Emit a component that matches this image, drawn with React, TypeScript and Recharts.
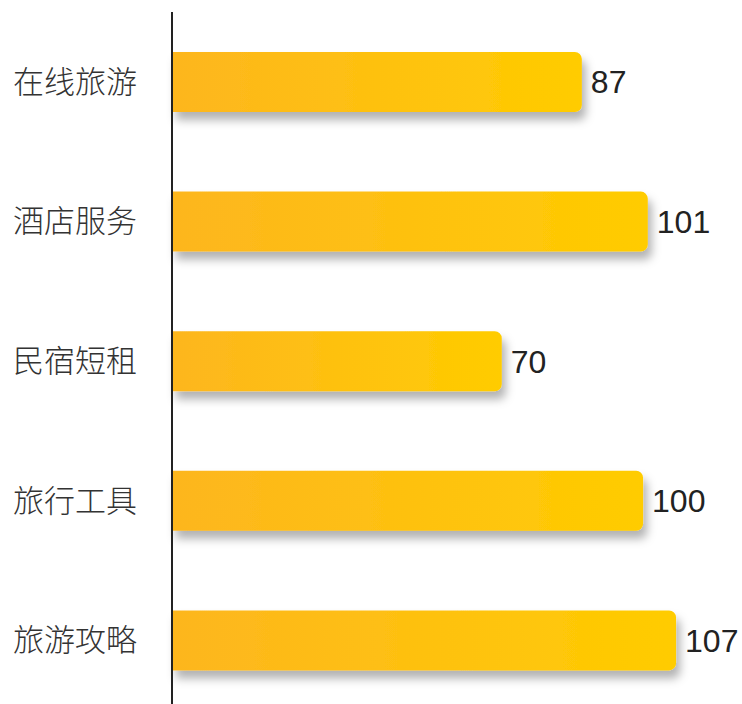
import { BarChart, Bar, XAxis, YAxis, LabelList } from "recharts";

const categories = ["在线旅游", "酒店服务", "民宿短租", "旅行工具", "旅游攻略"];
const values = [87, 101, 70, 100, 107];

const data = categories.map((name, i) => ({ name, value: values[i] }));

const CategoryTick = (props: any) => {
  const { y, payload } = props;
  return (
    <text
      x={13}
      y={y}
      dy={11}
      textAnchor="start"
      fontSize={31}
      fontWeight={300}
      fill="#333"
      fontFamily="'Noto Sans CJK SC', sans-serif"
    >
      {payload.value}
    </text>
  );
};

export default function App() {
  return (
    <div
      style={{
        position: "fixed",
        top: 0,
        left: 0,
        width: 742,
        height: 704,
        overflow: "hidden",
        background: "#fff",
      }}
    >
      <BarChart
        width={742}
        height={710}
        data={data}
        layout="vertical"
        margin={{ top: 12, right: 0, left: 0, bottom: 0 }}
        style={{ overflow: "visible" }}
      >
        <defs>
          <linearGradient id="barFill" x1="0" y1="0" x2="1" y2="0">
            <stop offset="0%" stopColor="#FDB61F" />
            <stop offset="100%" stopColor="#FFCC00" />
          </linearGradient>
          <filter id="barShadow" x="-10%" y="-30%" width="130%" height="190%">
            <feDropShadow dx="4" dy="8" stdDeviation="5" floodColor="#000" floodOpacity="0.3" />
          </filter>
        </defs>
        <XAxis type="number" domain={[0, 121]} hide />
        <YAxis
          type="category"
          dataKey="name"
          width={172}
          axisLine={{ stroke: "#222", strokeWidth: 2 }}
          tickLine={false}
          tick={<CategoryTick />}
        />
        <Bar
          dataKey="value"
          fill="url(#barFill)"
          barSize={60}
          radius={[0, 7, 7, 0]}
          filter="url(#barShadow)"
          isAnimationActive={false}
        >
          <LabelList
            dataKey="value"
            position="right"
            offset={9}
            fill="#222"
            fontSize={32}
            fontFamily="'Liberation Sans', Arial, sans-serif"
          />
        </Bar>
      </BarChart>
    </div>
  );
}
